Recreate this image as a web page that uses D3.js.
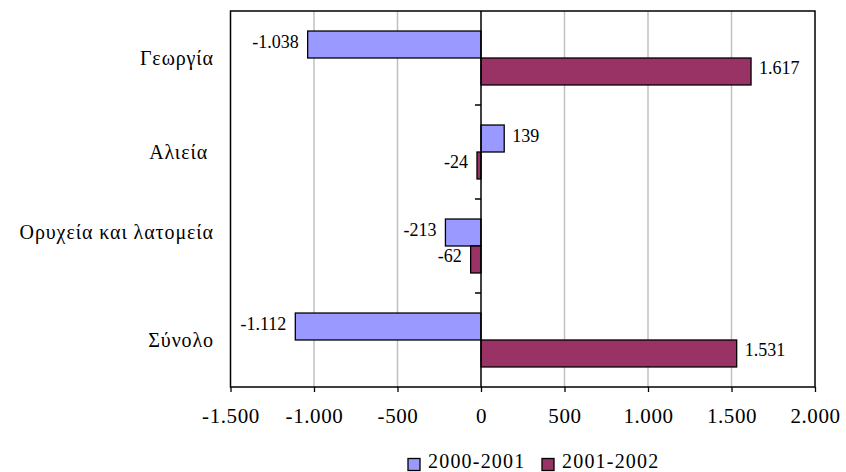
<!DOCTYPE html>
<html><head><meta charset="utf-8">
<script src="https://cdn.jsdelivr.net/npm/d3@7"></script>
<style>
html,body{margin:0;padding:0;background:#fff;}
svg{display:block;font-family:"Liberation Serif","Times New Roman",serif;}
</style></head>
<body><svg id="c" width="846" height="472"></svg>
<script>
const categories = ["Γεωργία", "Αλιεία ", "Ορυχεία και λατομεία", "Σύνολο"];
const seriesNames = ["2000-2001", "2001-2002"];
const values2000_2001 = [-1038, 139, -213, -1112];
const values2001_2002 = [1617, -24, -62, 1531];
const xTicks = [-1500, -1000, -500, 0, 500, 1000, 1500, 2000];
const colors = ["#9999FF", "#993366"];

const fmt = v => {
  const s = Math.abs(v).toString().replace(/\B(?=(\d{3})+(?!\d))/g, ".");
  return (v < 0 ? "-" : "") + s;
};

const svg = d3.select("#c");
const L = 230.5, R = 815, T = 11, B = 387;
const x = d3.scaleLinear().domain([-1500, 2000]).range([L, R]);
const y = d3.scaleBand().domain(categories).range([T, B]).padding(0);
const series = [values2000_2001, values2001_2002];
const step = y.bandwidth();
const barH = step * 0.287;
const groupOff = (step - 2 * barH) / 2;

// gridlines
svg.append("g").selectAll("line").data(xTicks.filter(t => t !== 0 && t !== -1500 && t !== 2000))
  .join("line").attr("x1", d => x(d)).attr("x2", d => x(d)).attr("y1", T).attr("y2", B)
  .attr("stroke", "#c0c0c0").attr("stroke-width", 1.5);

// bars
series.forEach((vals, si) => {
  svg.append("g").selectAll("rect").data(vals).join("rect")
    .attr("x", d => Math.min(x(0), x(d)))
    .attr("width", d => Math.abs(x(d) - x(0)))
    .attr("y", (d, i) => y(categories[i]) + groupOff + si * barH)
    .attr("height", barH)
    .attr("fill", colors[si]).attr("stroke", "#000").attr("stroke-width", 1.3);
  svg.append("g").selectAll("text").data(vals).join("text")
    .attr("x", d => d >= 0 ? x(d) + 8 : x(d) - 9)
    .attr("y", (d, i) => y(categories[i]) + groupOff + si * barH + barH / 2 + 3)
    .attr("text-anchor", d => d >= 0 ? "start" : "end")
    .attr("font-size", 18).attr("fill", "#000")
    .text(d => fmt(d));
});

// plot border
svg.append("rect").attr("x", L).attr("y", T).attr("width", R - L).attr("height", B - T)
  .attr("fill", "none").attr("stroke", "#000").attr("stroke-width", 1.5);

// x axis
const xAxis = d3.axisBottom(x).tickValues(xTicks).tickSize(5).tickPadding(16).tickFormat(fmt);
const gx = svg.append("g").attr("transform", `translate(0,${B})`).call(xAxis);
gx.select(".domain").remove();
gx.selectAll("line").attr("stroke", "#000").attr("stroke-width", 1.3);
gx.selectAll("text").attr("font-size", 21).attr("font-family", "Liberation Serif")
  .attr("letter-spacing", 0.6).attr("fill", "#000");

// category axis at zero
svg.append("line").attr("x1", x(0)).attr("x2", x(0)).attr("y1", T).attr("y2", B)
  .attr("stroke", "#000").attr("stroke-width", 1.5);
const yBounds = categories.slice(1).map(c => y(c));
svg.append("g").selectAll("line").data(yBounds).join("line")
  .attr("x1", x(0) - 6).attr("x2", x(0)).attr("y1", d => d).attr("y2", d => d)
  .attr("stroke", "#000").attr("stroke-width", 1.5);

// category labels (left)
const labelShift = {"Ορυχεία και λατομεία": -14};
svg.append("g").selectAll("text").data(categories).join("text")
  .attr("x", 214).attr("y", d => y(d) + step / 2 + 7 + (labelShift[d] || 0))
  .attr("text-anchor", "end").attr("font-size", 20).attr("letter-spacing", 0.9).attr("fill", "#000")
  .style("white-space", "pre")
  .text(d => d);

// legend
const lg = svg.append("g");
const legX = [408, 542];
seriesNames.forEach((n, i) => {
  lg.append("rect").attr("x", legX[i]).attr("y", 458.5).attr("width", 12).attr("height", 12)
    .attr("fill", colors[i]).attr("stroke", "#000").attr("stroke-width", 1.3);
  lg.append("text").attr("x", legX[i] + 20).attr("y", 467.5).attr("font-size", 20)
    .attr("letter-spacing", 1.2).attr("fill", "#000").text(n);
});
</script></body></html>
